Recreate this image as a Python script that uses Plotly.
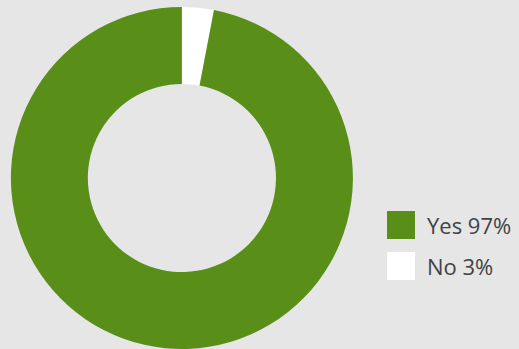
import plotly.graph_objects as go

labels = ["Yes", "No"]
values = [97, 3]
colors = ["#598f18", "#ffffff"]

bg = "#e6e6e6"

# Slices run clockwise from 12 o'clock, "No" first
fig = go.Figure()
fig.add_trace(go.Pie(
    labels=labels[::-1],
    values=values[::-1],
    hole=0.55,
    sort=False,
    direction="clockwise",
    rotation=0,
    marker=dict(colors=colors[::-1], line=dict(width=0)),
    textinfo="none",
    hoverinfo="label+percent",
    showlegend=False,
    domain=dict(x=[0.021, 0.680], y=[0.0, 0.98]),
))

# Legend drawn as swatches plus text labels
total = sum(values)
sw_x0, sw_size = 387, 28
row_top = [211, 252]
W, H = 519, 349
for lab, val, col, top in zip(labels, values, colors, row_top):
    fig.add_shape(
        type="rect", xref="paper", yref="paper",
        x0=sw_x0 / W, x1=(sw_x0 + sw_size) / W,
        y0=1 - (top + sw_size) / H, y1=1 - top / H,
        fillcolor=col, line=dict(width=0),
    )
    fig.add_annotation(
        xref="paper", yref="paper",
        x=(sw_x0 + sw_size + 10) / W, y=1 - (top + sw_size / 2) / H,
        xanchor="left", yanchor="middle", showarrow=False,
        text=f"{lab} {round(val / total * 100)}%",
        font=dict(family="Open Sans", size=22, color="#424242"),
    )

fig.update_layout(
    width=W, height=H,
    margin=dict(l=0, r=0, t=0, b=0),
    paper_bgcolor=bg, plot_bgcolor=bg,
)

fig.write_html("out.html")
